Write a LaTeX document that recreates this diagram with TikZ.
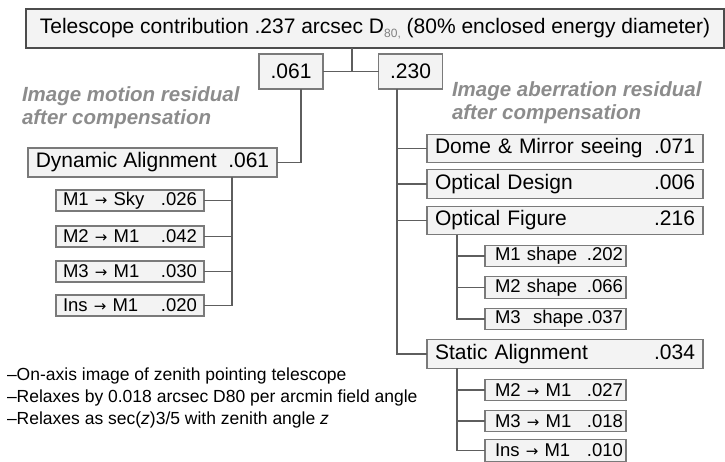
\documentclass[tikz,border=0pt]{standalone}
\usepackage{fontspec}
\setmainfont{Liberation Sans}
\newfontfamily\djv{DejaVu Sans}
\newcommand\rarr{{\djv\fontsize{15}{15}\selectfont →}}
\definecolor{boxfill}{HTML}{F3F3F3}
\definecolor{boxline}{HTML}{7A7A7A}
\definecolor{connc}{HTML}{5E5E5E}
\definecolor{notec}{HTML}{8C8C8C}
\begin{document}
\begin{tikzpicture}[x=1pt,y=-1pt,
  every node/.style={inner sep=0pt, outer sep=0pt},
  box/.style={draw=boxline, fill=boxfill, line width=1.2pt, inner ysep=0pt},
  titlebox/.style={box, draw=black!70, minimum width=698pt, minimum height=39pt, font=\fontsize{21}{21}\selectfont},
  numbox/.style={box, minimum width=64pt, minimum height=35pt, font=\fontsize{21}{21}\selectfont},
  dynbox/.style={box, minimum width=249pt, minimum height=29pt, font=\fontsize{21}{21}\selectfont},
  rone/.style={box, text width=260pt, inner xsep=8pt, minimum height=28.5pt, font=\fontsize{21}{21}\selectfont},
  lchild/.style={box, text width=134pt, inner xsep=7pt, minimum height=21pt, font=\fontsize{18.5}{18.5}\selectfont},
  rchild/.style={box, text width=135pt, inner xsep=3pt, minimum height=21.5pt, font=\fontsize{18.5}{18.5}\selectfont},
  conn/.style={draw=connc, line width=1.3pt},
  notetext/.style={text=notec, anchor=base west, font=\fontsize{20.5}{20.5}\selectfont\bfseries\itshape},
  foot/.style={anchor=base west, font=\fontsize{17.5}{17.5}\selectfont}
]
\useasboundingbox (0,0) rectangle (725,462);

% top level
\node[titlebox] (title) at (375,28.5) {Telescope contribution .237 arcsec D{\fontsize{12}{12}\selectfont\color{gray}\raisebox{-4pt}{80,}} (80\% enclosed energy diameter)};
\node[numbox] (n061) at (291,71.5) {.061};
\node[numbox] (n230) at (410.5,71.5) {.230};
\coordinate (tj) at (352,71.5);
\draw[conn] (title.south -| tj) -- (tj);
\draw[conn] (n061.east) -- (n230.west);

% gray notes
\node[notetext] (gl1) at (22,102) {Image motion residual};
\node[notetext] (gl2) at (22,125) {after compensation};
\node[notetext] (gr1) at (452,97) {Image aberration residual};
\node[notetext] (gr2) at (452,120) {after compensation};

% left branch
\node[dynbox] (dyn) at (152.5,162.5) {Dynamic Alignment\ \ .061};
\coordinate (lv) at (301,0);
\draw[conn] (n061.south -| lv) |- (dyn.east);
\node[lchild] (c1) at (130,200.5) {M1 \rarr\ Sky\hfill .026};
\node[lchild] (c2) at (130,236.5) {M2 \rarr\ M1\hfill .042};
\node[lchild] (c3) at (130,271.5) {M3 \rarr\ M1\hfill .030};
\node[lchild] (c4) at (130,305.5) {Ins \rarr\ M1\hfill .020};
\coordinate (dv) at (232,0);
\draw[conn] (dyn.south -| dv) |- (c4.east);
\foreach \c in {c1,c2,c3} \draw[conn] (\c.east) -- (\c.east -| dv);

% right branch
\node[rone] (dome) at (565,148.5) {Dome \& Mirror seeing\hfill .071\hspace*{5pt}};
\node[rone] (od) at (565,184) {Optical Design\hfill .006\hspace*{5pt}};
\node[rone] (of) at (565,220.5) {Optical Figure\hfill .216\hspace*{5pt}};
\node[rone] (sta) at (565,354) {Static Alignment\hfill .034\hspace*{5pt}};
\coordinate (rv) at (397,0);
\draw[conn] (n230.south -| rv) |- (sta.west);
\foreach \c in {dome,od,of} \draw[conn] (\c.west) -- (\c.west -| rv);

\node[rchild] (m1s) at (555.5,256) {\hspace*{7pt}M1 shape\hfill .202};
\node[rchild] (m2s) at (555.5,287.5) {\hspace*{7pt}M2 shape\hfill .066};
\node[rchild] (m3s) at (555.5,319) {\hspace*{7pt}M3\ \ shape\hfill .037};
\coordinate (fv) at (457,0);
\draw[conn] (of.south -| fv) |- (m3s.west);
\foreach \c in {m1s,m2s} \draw[conn] (\c.west) -- (\c.west -| fv);

\node[rchild] (s1) at (555.5,390) {\hspace*{7pt}M2 \rarr\ M1\hfill .027};
\node[rchild] (s2) at (555.5,421) {\hspace*{7pt}M3 \rarr\ M1\hfill .018};
\node[rchild] (s3) at (555.5,450.5) {\hspace*{7pt}Ins \rarr\ M1\hfill .010};
\draw[conn] (sta.south -| fv) |- (s3.west);
\foreach \c in {s1,s2} \draw[conn] (\c.west) -- (\c.west -| fv);

% footnotes
\node[foot] (f1) at (7,380) {–On-axis image of zenith pointing telescope};
\node[foot] (f2) at (7,402) {–Relaxes by 0.018 arcsec D80 per arcmin field angle};
\node[foot] (f3) at (7,424) {–Relaxes as sec(\textit{z})3/5 with zenith angle \textit{z}};
\end{tikzpicture}
\end{document}
